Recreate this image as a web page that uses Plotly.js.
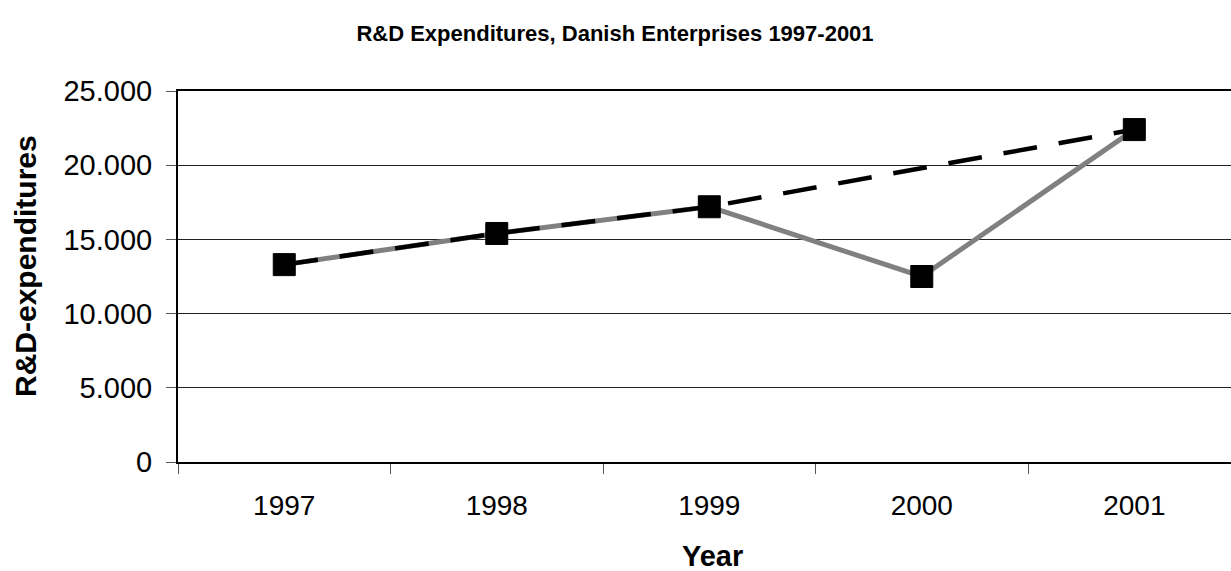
<!DOCTYPE html>
<html>
<head>
<meta charset="utf-8">
<script src="https://cdn.plot.ly/plotly-3.0.1.min.js"></script>
<style>html,body{margin:0;padding:0;background:#fff;}#chart{width:1231px;height:571px;}</style>
</head>
<body>
<div id="chart"></div>
<script>
// Data
var years = ['1997', '1998', '1999', '2000', '2001'];
var cis3Values = [13300, 15400, 17200, 12500, 22400];       // grey solid series (with markers)
var trendValues = [13300, 15400, 17200, null, 22400];       // black dashed series (gap at 2000)
var yTickVals = [0, 5000, 10000, 15000, 20000, 25000];
var yTickText = ['0', '5.000', '10.000', '15.000', '20.000', '25.000'];
var seriesLabel = 'CIS3';
var chartTitle = 'R&D Expenditures, Danish Enterprises 1997-2001';
var xTitle = 'Year';
var yTitle = 'R&D-expenditures';

var FONT = '"Liberation Sans", Arial, sans-serif';

var traces = [
  {
    x: years, y: cis3Values, type: 'scatter', mode: 'lines',
    line: {color: '#808080', width: 5},
    hoverinfo: 'skip', showlegend: false
  },
  {
    x: years, y: trendValues, type: 'scatter', mode: 'lines',
    connectgaps: true,
    line: {color: '#000000', width: 4.5, dash: '34px,22px'},
    hoverinfo: 'skip', showlegend: false
  },
  {
    x: years, y: cis3Values, type: 'scatter', mode: 'markers',
    marker: {symbol: 'square', size: 22, color: '#000000', line: {color: '#000000', width: 1}},
    hoverinfo: 'skip', showlegend: false
  }
];

var layout = {
  width: 1231, height: 571,
  margin: {l: 178, r: 0, t: 91, b: 109, pad: 0},
  paper_bgcolor: '#ffffff', plot_bgcolor: '#ffffff',
  font: {family: FONT, color: '#000000'},
  title: {
    text: '<b>' + chartTitle + '</b>',
    font: {family: FONT, size: 22, color: '#000000'},
    x: 615 / 1231, xref: 'container', xanchor: 'center',
    y: 1 - 33 / 571, yref: 'container', yanchor: 'middle'
  },
  xaxis: {
    type: 'category',
    range: [-0.5, 4.455],
    tickson: 'boundaries',
    ticks: 'outside', ticklen: 10, tickwidth: 1, tickcolor: '#555555',
    showline: true, linecolor: '#000000', linewidth: 2, mirror: true,
    showgrid: false, zeroline: false,
    tickfont: {family: FONT, size: 28, color: '#000000'},
    ticklabelstandoff: 17,
    fixedrange: true
  },
  yaxis: {
    range: [0, 25000],
    tickvals: yTickVals, ticktext: yTickText,
    ticks: 'outside', ticklen: 10, tickwidth: 1, tickcolor: '#555555',
    showline: true, linecolor: '#000000', linewidth: 2, mirror: false,
    showgrid: true, gridcolor: '#222222', gridwidth: 1,
    zeroline: false,
    tickfont: {family: FONT, size: 29, color: '#000000'},
    ticklabelstandoff: 8,
    fixedrange: true
  },
  annotations: [
    {
      x: years[3], y: cis3Values[3], xref: 'x', yref: 'y',
      text: seriesLabel, showarrow: false,
      xanchor: 'left', yanchor: 'middle', xshift: 48,
      font: {family: FONT, size: 21, color: '#000000'}
    },
    {
      x: (712 - 178) / 1053, y: (462 - 556) / 371, xref: 'paper', yref: 'paper',
      text: '<b>' + xTitle + '</b>', showarrow: false,
      xanchor: 'center', yanchor: 'middle',
      font: {family: FONT, size: 29, color: '#000000'}
    },
    {
      x: (25 - 178) / 1053, y: (462 - 266) / 371, xref: 'paper', yref: 'paper',
      text: '<b>' + yTitle + '</b>', showarrow: false, textangle: -90,
      xanchor: 'center', yanchor: 'middle',
      font: {family: FONT, size: 30, color: '#000000'}
    }
  ]
};

Plotly.newPlot('chart', traces, layout, {staticPlot: true, displayModeBar: false});
</script>
</body>
</html>
